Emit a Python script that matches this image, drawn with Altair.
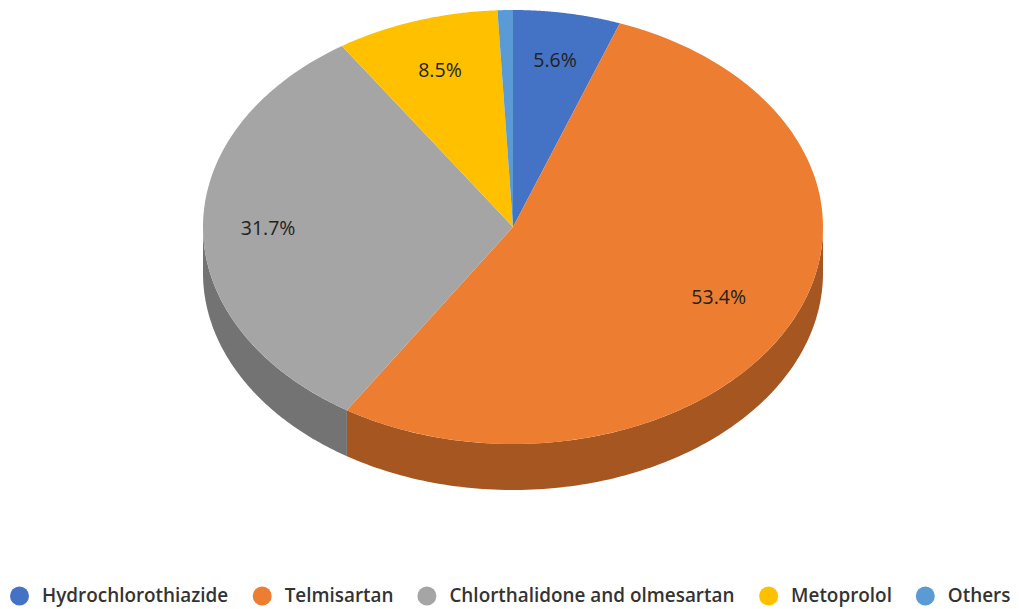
import numpy as np
import pandas as pd
import altair as alt

categories = ["Hydrochlorothiazide", "Telmisartan", "Chlorthalidone and olmesartan", "Metoprolol", "Others"]
values = [5.6, 53.4, 31.7, 8.5, 0.8]
labels = ["5.6%", "53.4%", "31.7%", "8.5%", ""]
top_colors = ["#4472C4", "#ED7D31", "#A5A5A5", "#FFC000", "#5B9BD5"]
side_colors = ["#2F5088", "#A65620", "#737373", "#B38600", "#3F6F9A"]
label_radius = [0.775, 0.74, 0.79, 0.755, 0.76]

W, H = 1003, 601
CX, CY, RX, RY, DEPTH = 505, 219, 310, 217, 46


def ex(t):
    return CX + RX * np.sin(t)


def ey(t):
    return CY - RY * np.cos(t)


total = sum(values)
edges = np.cumsum([0] + values) / total * 2 * np.pi
top_rows, side_rows, label_rows = [], [], []
for i, cat in enumerate(categories):
    a, b = edges[i], edges[i + 1]
    ts = np.linspace(a, b, 120)
    k = 0
    top_rows.append(dict(cat=cat, k=k, x=CX, y=CY))
    for t in ts:
        k += 1
        top_rows.append(dict(cat=cat, k=k, x=ex(t), y=ey(t)))
    # the visible wall is the part of the rim in the front half of the ellipse
    lo, hi = max(a, np.pi / 2), min(b, 3 * np.pi / 2)
    if hi > lo:
        ws = np.linspace(lo, hi, 120)
        pts = [(ex(t), ey(t)) for t in ws] + [(ex(t), ey(t) + DEPTH) for t in ws[::-1]]
        for k, (x, y) in enumerate(pts):
            side_rows.append(dict(cat=cat, k=k, x=x, y=y, fill=side_colors[i]))
    if labels[i]:
        m = (a + b) / 2
        label_rows.append(dict(label=labels[i],
                               x=CX + label_radius[i] * RX * np.sin(m),
                               y=CY - label_radius[i] * RY * np.cos(m)))

xs = alt.Scale(domain=[0, W], range=[0, W], nice=False, zero=False)
ys = alt.Scale(domain=[0, H], range=[0, H], nice=False, zero=False)
X = alt.X("x:Q", scale=xs, axis=None)
Y = alt.Y("y:Q", scale=ys, axis=None)

side = alt.Chart(pd.DataFrame(side_rows)).mark_line(filled=True, strokeWidth=0).encode(
    x=X, y=Y, order="k:Q", detail="cat:N",
    fill=alt.Fill("fill:N", scale=None),
)

top = alt.Chart(pd.DataFrame(top_rows)).mark_line(filled=True, strokeWidth=0).encode(
    x=X, y=Y, order="k:Q",
    fill=alt.Fill(
        "cat:N",
        sort=categories,
        scale=alt.Scale(domain=categories, range=top_colors),
        legend=alt.Legend(
            title=None, orient="none", legendX=2, legendY=578.5, padding=0,
            direction="horizontal", columns=5, columnPadding=23.7,
            symbolType="circle", symbolSize=361, symbolStrokeWidth=0,
            symbolOpacity=1, labelFont="Open Sans", labelFontSize=18.9, labelFontWeight=600,
            labelColor="#333333", labelOffset=13, labelLimit=400,
            gridAlign="none",
        ),
    ),
)

text = alt.Chart(pd.DataFrame(label_rows)).mark_text(
    font="Open Sans", fontSize=19.5, color="#222222", align="center", baseline="middle"
).encode(x=X, y=Y, text="label:N")

chart = (side + top + text).properties(
    width=W, height=H, padding=0, autosize=alt.AutoSizeParams(type="none")
).configure_view(stroke=None)
chart.save("out.html", embed_options={"renderer": "svg", "actions": False})
